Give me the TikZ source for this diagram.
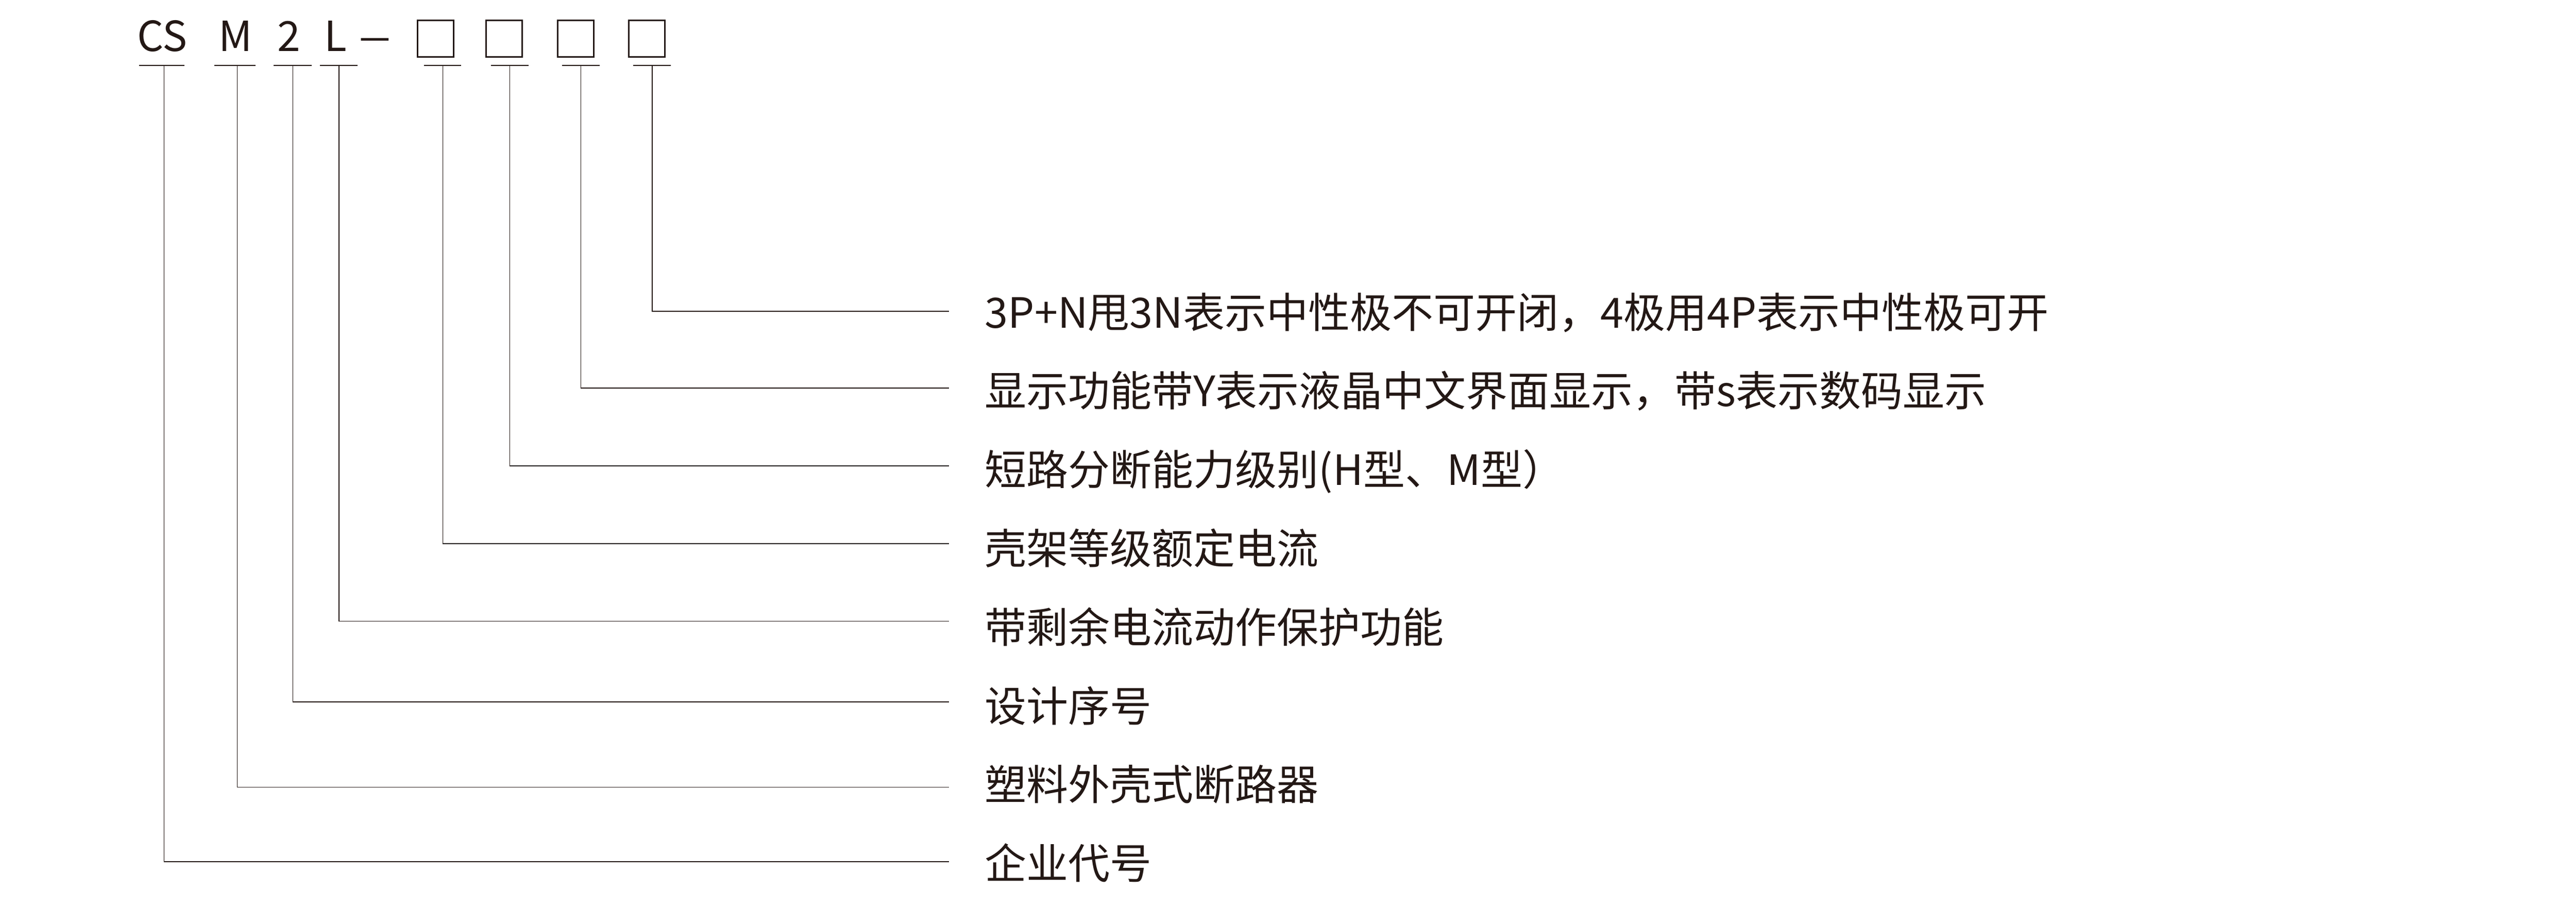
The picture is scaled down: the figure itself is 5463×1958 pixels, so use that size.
\documentclass[tikz,border=0pt]{standalone}
\usepackage{fontspec}
\setmainfont{Noto Sans CJK SC}
\definecolor{ink}{HTML}{231815}
\begin{document}
\begin{tikzpicture}[x=0.1pt,y=-0.1pt,
  lbl/.style={anchor=base west, inner sep=0pt, text=ink, font=\fontsize{8.85pt}{10pt}\selectfont},
  code/.style={anchor=base, inner sep=0pt, text=ink, font=\fontsize{8.8pt}{10pt}\selectfont},
  slot/.style={draw=ink, line width=0.33pt, minimum size=7.67pt, inner sep=0pt},
  conn/.style={draw=ink, line width=0.19pt}]
\useasboundingbox (0,0) rectangle (5463,1958);
% model code
\node[code] (cs) at (344,109) {CS};
\node[code] (m)  at (500,109) {M};
\node[code] (two) at (613,109) {2};
\node[code] (l)  at (712,109) {L};
\node[code] (dash) at (795,109) {\scalebox{1.5}[1]{–}};
\node[slot] (b1) at (924,82) {};
\node[slot] (b2) at (1069,82) {};
\node[slot] (b3) at (1221,82) {};
\node[slot] (b4) at (1372,82) {};
% underline ends
\coordinate (csA) at (295,138.7); \coordinate (csB) at (391,138.7); \coordinate (csT) at (348,138.7);
\coordinate (mA) at (455,138.7);  \coordinate (mB) at (542,138.7);  \coordinate (mT) at (503,138.7);
\coordinate (twoA) at (580,138.7); \coordinate (twoB) at (661,138.7); \coordinate (twoT) at (621,138.7);
\coordinate (lA) at (679,138.7);  \coordinate (lB) at (758,138.7);  \coordinate (lT) at (719,138.7);
\coordinate (b1A) at (899,138.7); \coordinate (b1B) at (978,138.7); \coordinate (b1T) at (939,138.7);
\coordinate (b2A) at (1041,138.7); \coordinate (b2B) at (1121,138.7); \coordinate (b2T) at (1081,138.7);
\coordinate (b3A) at (1192,138.7); \coordinate (b3B) at (1272,138.7); \coordinate (b3T) at (1232,138.7);
\coordinate (b4A) at (1343,138.7); \coordinate (b4B) at (1423,138.7); \coordinate (b4T) at (1383,138.7);
% line ends
\coordinate (e1) at (2012,660);
\coordinate (e2) at (2012,823);
\coordinate (e3) at (2012,988);
\coordinate (e4) at (2012,1153);
\coordinate (e5) at (2012,1317);
\coordinate (e6) at (2012,1488);
\coordinate (e7) at (2012,1669);
\coordinate (e8) at (2012,1827);
% labels
\node[lbl] (t1) at (2087,695) {3P+N甩3N表示中性极不可开闭，4极用4P表示中性极可开};
\node[lbl] (t2) at (2087,862) {显示功能带Y表示液晶中文界面显示，带s表示数码显示};
\node[lbl] (t3) at (2087,1029) {短路分断能力级别(H型、M型）};
\node[lbl] (t4) at (2087,1196) {壳架等级额定电流};
\node[lbl] (t5) at (2087,1363) {带剩余电流动作保护功能};
\node[lbl] (t6) at (2087,1530) {设计序号};
\node[lbl] (t7) at (2087,1696) {塑料外壳式断路器};
\node[lbl] (t8) at (2087,1863) {企业代号};
% underlines
\foreach \u in {cs,m,two,l,b1,b2,b3,b4} \draw[conn] (\u A) -- (\u B);
% connectors
\draw[conn] (b4T) |- (e1);
\draw[conn] (b3T) |- (e2);
\draw[conn] (b2T) |- (e3);
\draw[conn] (b1T) |- (e4);
\draw[conn] (lT) |- (e5);
\draw[conn] (twoT) |- (e6);
\draw[conn] (mT) |- (e7);
\draw[conn] (csT) |- (e8);
\end{tikzpicture}
\end{document}
